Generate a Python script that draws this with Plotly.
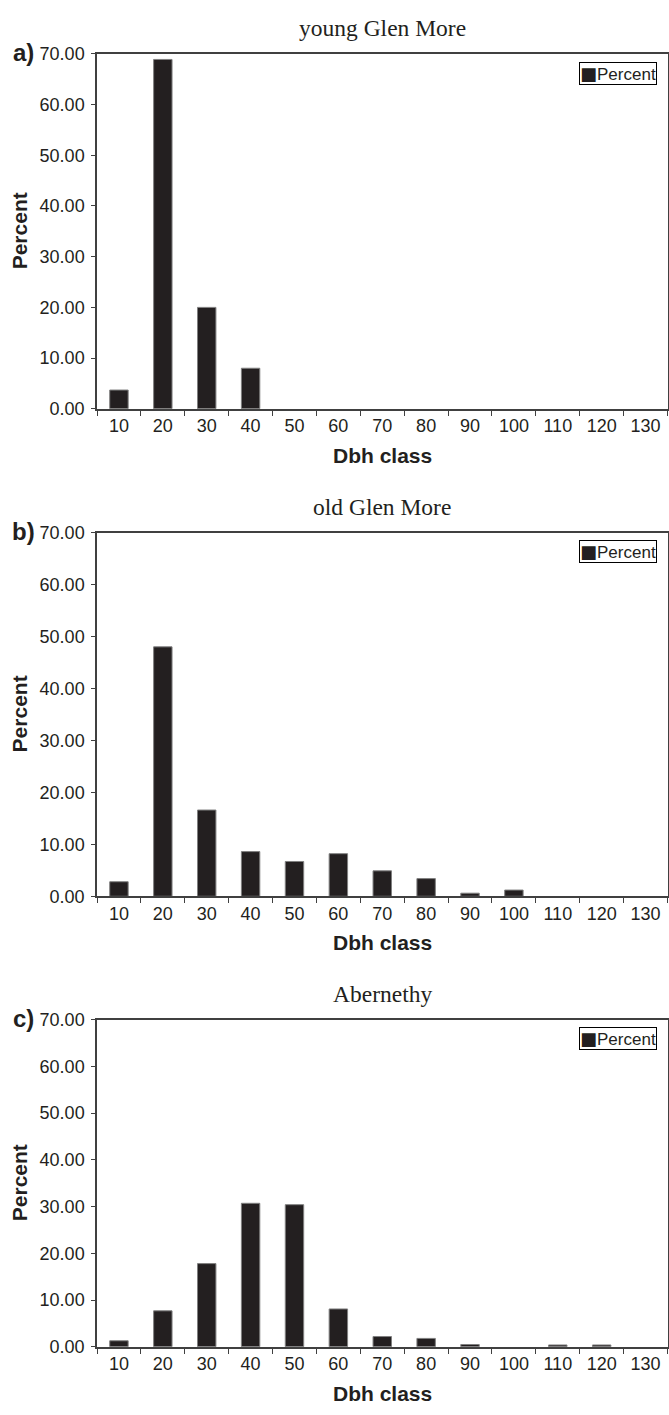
import plotly.graph_objects as go

# ---------------- data ----------------
dbh_classes = ["10", "20", "30", "40", "50", "60", "70", "80", "90", "100", "110", "120", "130"]
young_glen_more = [3.7, 68.9, 20.0, 8.0, 0, 0, 0, 0, 0, 0, 0, 0, 0]
old_glen_more = [2.8, 48.0, 16.6, 8.6, 6.7, 8.2, 4.9, 3.4, 0.6, 1.2, 0, 0, 0]
abernethy = [1.3, 7.7, 17.8, 30.7, 30.4, 8.1, 2.2, 1.8, 0.5, 0, 0.4, 0.4, 0]
y_tick_values = [0, 10, 20, 30, 40, 50, 60, 70]
y_tick_labels = ["0.00", "10.00", "20.00", "30.00", "40.00", "50.00", "60.00", "70.00"]
panel_titles = ["young Glen More", "old Glen More", "Abernethy"]
panel_letters = ["a)", "b)", "c)"]
series_name = "Percent"

# ---------------- layout geometry (pixels) ----------------
W, H = 669, 1415
LEFT, RIGHT = 97, 667.5
panel_px = [(44.5, 404.5), (530, 899), (1024, 1356)]  # (top, bottom)

SANS = "Liberation Sans, Arial, Helvetica, sans-serif"
SERIF = "Liberation Serif, Times New Roman, serif"
INK = "#231f20"
AXIS = "#404040"

fig = go.Figure()
series = [young_glen_more, old_glen_more, abernethy]
annotations = []
layout = {}

def py(px):
    return 1 - px / H

for i, vals in enumerate(series):
    sfx = "" if i == 0 else str(i + 1)
    top, bottom = panel_px[i]
    fig.add_trace(go.Bar(
        x=dbh_classes, y=vals, name=series_name,
        xaxis="x" + sfx, yaxis="y" + sfx,
        marker=dict(color=INK,
                    line=dict(color="#808080", width=[1 if v > 0 else 0 for v in vals])),
        showlegend=False,
    ))
    layout["xaxis" + sfx] = dict(
        domain=[LEFT / W, RIGHT / W], anchor="y" + sfx, type="category",
        tickson="boundaries", ticks="outside", ticklen=5, tickwidth=1.2,
        tickcolor=AXIS, showline=True, linecolor=AXIS, linewidth=1.5,
        mirror=True, showgrid=False,
        tickfont=dict(family=SANS, size=18, color=INK),
    )
    layout["yaxis" + sfx] = dict(
        domain=[py(bottom), py(top)], anchor="x" + sfx, range=[0, 70],
        tickvals=y_tick_values, ticktext=y_tick_labels,
        ticks="outside", ticklen=4, tickwidth=1.2, tickcolor=AXIS,
        showline=True, linecolor=AXIS, linewidth=1.5, mirror=True,
        showgrid=False, zeroline=False, ticklabelstandoff=3,
        tickfont=dict(family=SANS, size=18, color=INK),
    )
    cx = (LEFT + RIGHT) / 2 / W
    # title
    annotations.append(dict(
        text=panel_titles[i], xref="paper", yref="paper",
        x=cx, y=py(top - 26), xanchor="center", yanchor="middle",
        showarrow=False, font=dict(family=SERIF, size=23.5, color=INK)))
    # panel letter
    annotations.append(dict(
        text="<b>" + panel_letters[i] + "</b>", xref="paper", yref="paper",
        x=23 / W, y=py(top - 1), xanchor="center", yanchor="middle",
        showarrow=False, font=dict(family=SANS, size=24, color=INK)))
    # y axis title
    annotations.append(dict(
        text="<b>Percent</b>", xref="paper", yref="paper",
        x=19 / W, y=py((top + bottom) / 2), xanchor="center", yanchor="middle",
        textangle=-90, showarrow=False, font=dict(family=SANS, size=21, color=INK)))
    # x axis title
    annotations.append(dict(
        text="<b>Dbh class</b>", xref="paper", yref="paper",
        x=cx, y=py(bottom + 47), xanchor="center", yanchor="middle",
        showarrow=False, font=dict(family=SANS, size=21, color=INK)))
    # legend box
    annotations.append(dict(
        text="<span style='font-family:DejaVu Sans;font-size:18px'>\u25A0</span>" + series_name,
        xref="paper", yref="paper",
        x=657 / W, y=py(top + 8), xanchor="right", yanchor="top",
        showarrow=False, bordercolor="#000000", borderwidth=1, borderpad=0,
        bgcolor="white", font=dict(family=SANS, size=17, color=INK)))

fig.update_layout(
    width=W, height=H,
    margin=dict(l=0, r=0, t=0, b=0),
    paper_bgcolor="white", plot_bgcolor="white",
    bargap=0.58, showlegend=False,
    annotations=annotations,
    **layout,
)

fig.write_html("out.html")
